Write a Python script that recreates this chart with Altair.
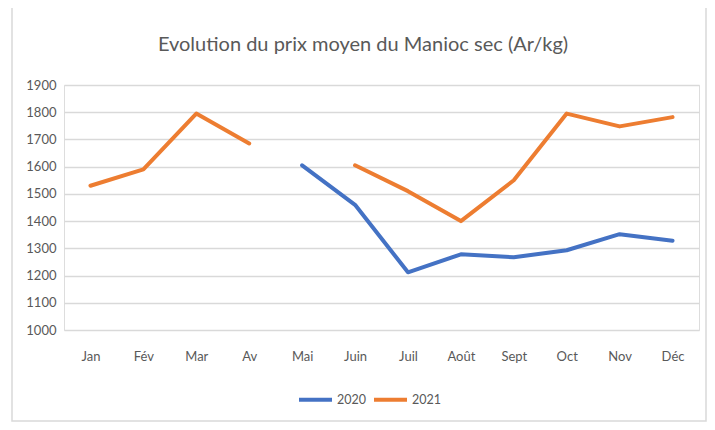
import altair as alt
import pandas as pd

months = ["Jan", "Fév", "Mar", "Av", "Mai", "Juin", "Juil", "Août", "Sept", "Oct", "Nov", "Déc"]
prix_2020 = [None, None, None, None, 1605, 1460, 1212, 1278, 1267, 1293, 1352, 1328]
prix_2021 = [1530, 1590, 1795, 1685, None, 1605, 1510, 1400, 1550, 1795, 1748, 1782]
series = ["2020", "2021"]
colors = ["#4472C4", "#ED7D31"]
title_text = "Evolution du prix moyen du Manioc sec (Ar/kg)"

rows = []
for m, v in zip(months, prix_2020):
    rows.append({"mois": m, "annee": "2020", "prix": v})
for m, v in zip(months, prix_2021):
    rows.append({"mois": m, "annee": "2021", "prix": v})
df = pd.DataFrame(rows)

FONT = "Liberation Sans Narrow, Lato, sans-serif"
W, H = 635, 245

lines = alt.Chart(df).mark_line(
    strokeWidth=4, strokeCap="round", strokeJoin="round",
    invalid="break-paths-show-domains"
).encode(
    x=alt.X("mois:N", sort=months, title=None,
            scale=alt.Scale(type="point", padding=0.5),
            axis=alt.Axis(labelAngle=0, ticks=False, domain=False, grid=False,
                          labelPadding=20, labelFontSize=13, labelColor="#595959",
                          labelFont=FONT)),
    y=alt.Y("prix:Q", title=None,
            scale=alt.Scale(domain=[1000, 1900], nice=False, zero=False),
            axis=alt.Axis(values=list(range(1000, 2000, 100)), ticks=False, domain=False,
                          gridColor="#d9d9d9", gridWidth=1.5, labelPadding=8,
                          labelFontSize=13, labelColor="#595959", labelFont=FONT,
                          format="d")),
    color=alt.Color("annee:N", scale=alt.Scale(domain=series, range=colors),
                    legend=alt.Legend(title=None, orient="none", direction="horizontal",
                                      legendX=233, legendY=296, symbolType="stroke",
                                      symbolSize=1089, symbolStrokeWidth=4,
                                      labelFontSize=12.5, labelColor="#595959",
                                      labelFont=FONT, columnPadding=0, labelOffset=3)),
)

one = pd.DataFrame({"t": [title_text]})

border = alt.Chart(one).mark_rect(
    fill="transparent", stroke="#d9d9d9", strokeWidth=1.5
).encode(
    x=alt.value(-52), x2=alt.value(642), y=alt.value(-79), y2=alt.value(336)
)

title = alt.Chart(one).mark_text(
    fontSize=20, font=FONT, color="#595959", align="center", baseline="middle"
).encode(
    text="t:N", x=alt.value(299), y=alt.value(-40)
)

chart = alt.layer(border, title, lines).properties(
    width=W, height=H,
    autosize=alt.AutoSizeParams(type="none"),
    padding={"left": 56, "top": 77, "right": 8, "bottom": 92},
).configure_view(stroke=None).configure(background="white")

chart.save("out.html", embed_options={"renderer": "svg", "actions": False})
